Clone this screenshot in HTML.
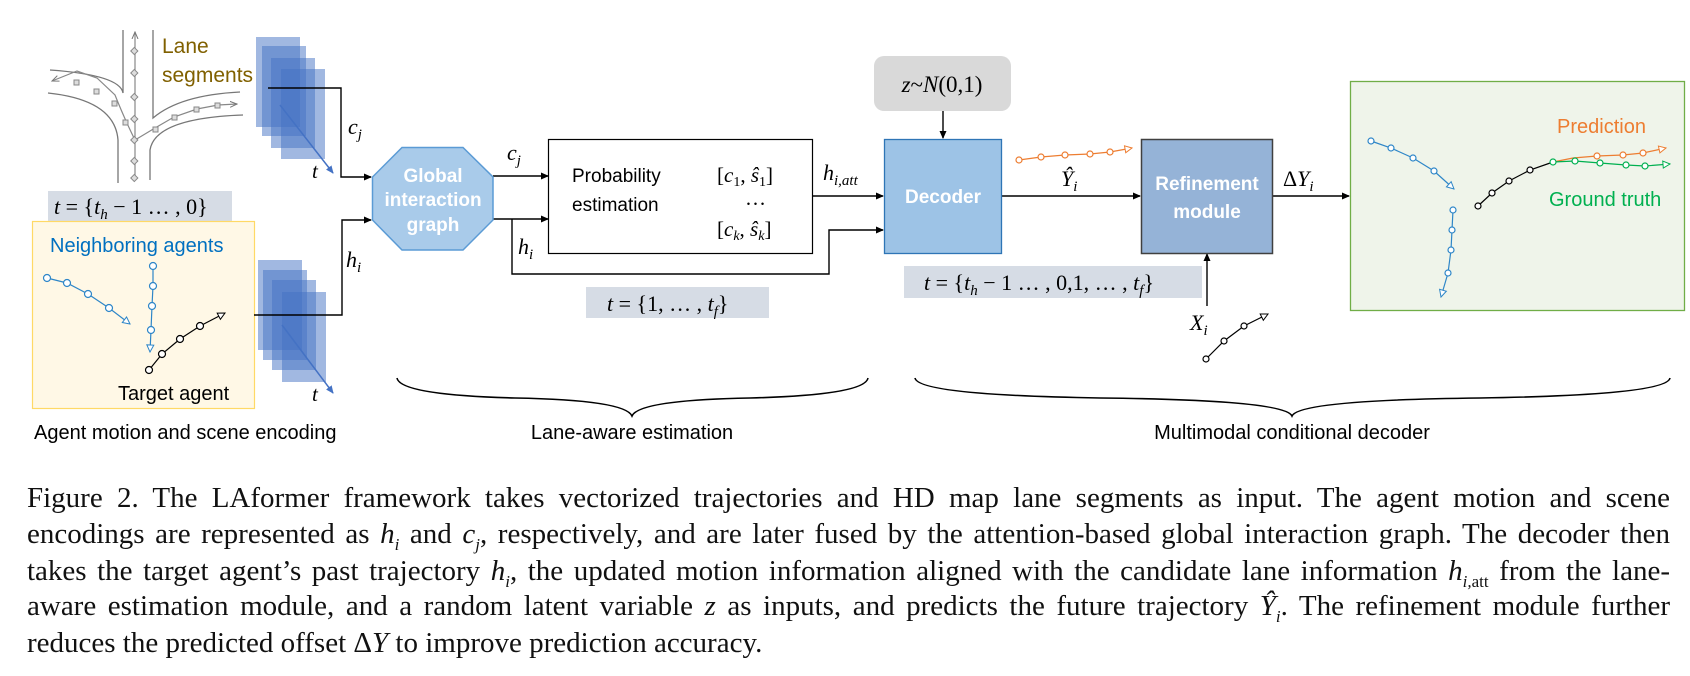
<!DOCTYPE html>
<html><head><meta charset="utf-8"><style>
body{margin:0;background:#fff;width:1690px;height:676px;overflow:hidden;position:relative;font-family:"Liberation Sans",sans-serif}
svg{position:absolute;left:0;top:0}
.cap{position:absolute;left:27px;width:1643px;font-family:"Liberation Serif",serif;font-size:29px;line-height:36.5px;text-align:justify;text-align-last:justify;white-space:nowrap;color:#111}
.cap i{font-style:italic}
.cap sub{font-size:17px;line-height:0}
</style></head><body>
<svg width="1690" height="676" viewBox="0 0 1690 676" font-family="Liberation Sans, sans-serif">
<defs>
<marker id="a" markerWidth="8" markerHeight="8" refX="7" refY="4" orient="auto" markerUnits="userSpaceOnUse"><path d="M0,0.5 L8,4 L0,7.5z" fill="#000"/></marker>
<marker id="ab" markerWidth="8" markerHeight="8" refX="7" refY="4" orient="auto" markerUnits="userSpaceOnUse"><path d="M0,0.5 L8,4 L0,7.5z" fill="#4472c4"/></marker>
<marker id="ob" markerWidth="9" markerHeight="9" refX="8" refY="4.5" orient="auto" markerUnits="userSpaceOnUse"><path d="M1,1 L8,4.5 L1,8z" fill="#fff" stroke="#2e86c8"/></marker>
<marker id="ok" markerWidth="9" markerHeight="9" refX="8" refY="4.5" orient="auto" markerUnits="userSpaceOnUse"><path d="M1,1 L8,4.5 L1,8z" fill="#fff" stroke="#000"/></marker>
<marker id="oo" markerWidth="9" markerHeight="9" refX="8" refY="4.5" orient="auto" markerUnits="userSpaceOnUse"><path d="M1,1 L8,4.5 L1,8z" fill="#fff" stroke="#ed7d31"/></marker>
<marker id="og" markerWidth="9" markerHeight="9" refX="8" refY="4.5" orient="auto" markerUnits="userSpaceOnUse"><path d="M1,1 L8,4.5 L1,8z" fill="#fff" stroke="#00b050"/></marker>
<marker id="og2" markerWidth="8" markerHeight="8" refX="7" refY="4" orient="auto" markerUnits="userSpaceOnUse"><path d="M0,1 L7,4 L0,7" fill="none" stroke="#777"/></marker>
</defs>
<g fill="none" stroke="#777" stroke-width="1.3">
<path d="M123,30 V93 Q120,75 50,70"/>
<path d="M153,30 V118 Q180,95 240,92"/>
<path d="M48,93 Q115,100 118,140 V183"/>
<path d="M243,115 Q155,118 150,150 V180"/>
</g>
<g fill="none" stroke="#888" stroke-width="1.2">
<path d="M135,180 V32" marker-end="url(#og2)"/>
<path d="M135,140 Q125,120 115,95 L97,78 L77,71 L52,81" marker-end="url(#og2)"/>
<path d="M135,140 L155,128 L174,117 L197,109 L218,105 L237,104" marker-end="url(#og2)"/>
</g>
<g fill="#ddd" stroke="#888" stroke-width="1">
<rect x="132" y="49" width="5" height="5" transform="rotate(45 135 51)"/><rect x="132" y="71" width="5" height="5" transform="rotate(45 135 73)"/><rect x="132" y="95" width="5" height="5" transform="rotate(45 135 97)"/><rect x="132" y="117" width="5" height="5" transform="rotate(45 135 119)"/><rect x="132" y="138" width="5" height="5" transform="rotate(45 135 140)"/><rect x="132" y="159" width="5" height="5" transform="rotate(45 135 161)"/><rect x="132" y="176" width="5" height="5" transform="rotate(45 135 178)"/>
<rect x="74" y="80" width="5" height="5"/><rect x="94" y="89" width="5" height="5"/><rect x="112" y="101" width="5" height="5"/><rect x="123" y="120" width="5" height="5"/><rect x="153" y="127" width="5" height="5"/><rect x="172" y="115" width="5" height="5"/><rect x="194" y="107" width="5" height="5"/><rect x="215" y="103" width="5" height="5"/>
</g>
<text x="162" y="53" font-size="21" fill="#806000">Lane</text>
<text x="162" y="82" font-size="21" fill="#806000">segments</text>
<g fill="#4472c4" fill-opacity="0.5">
<rect x="256" y="37" width="44" height="90"/><rect x="262" y="46" width="44" height="90"/><rect x="271" y="58" width="44" height="90"/><rect x="281" y="69" width="44" height="90"/>
<rect x="258" y="260" width="44" height="90"/><rect x="263" y="270" width="44" height="90"/><rect x="272" y="280" width="44" height="90"/><rect x="282" y="292" width="44" height="90"/>
</g>
<line x1="280" y1="105" x2="333" y2="173" stroke="#4472c4" stroke-width="1.5" marker-end="url(#ab)"/>
<line x1="282" y1="325" x2="333" y2="393" stroke="#4472c4" stroke-width="1.5" marker-end="url(#ab)"/>
<text x="312" y="178" font-size="21" font-style="italic" font-family="Liberation Serif, serif">t</text>
<text x="312" y="401" font-size="21" font-style="italic" font-family="Liberation Serif, serif">t</text>
<rect x="48" y="191" width="184" height="30" fill="#d6dce5"/>
<text x="54" y="214" font-size="22" font-family="Liberation Serif, serif"><tspan font-style="italic">t</tspan> = {<tspan font-style="italic">t</tspan><tspan font-style="italic" font-size="15" dy="5">h</tspan><tspan dy="-5"> − 1 … , 0}</tspan></text>
<rect x="32.5" y="221.5" width="222" height="187" fill="#fff8e6" stroke="#ffd966" stroke-width="1.2"/>
<text x="50" y="252" font-size="20" fill="#0070c0">Neighboring agents</text>
<text x="118" y="400" font-size="20" fill="#000">Target agent</text>
<g fill="none" stroke="#2e86c8" stroke-width="1.2">
<path d="M47,278 L67,283 L88,294 L109,308 L130,324" marker-end="url(#ob)"/>
<path d="M153,266 L153,286 L152,306 L151,330 L150,352" marker-end="url(#ob)"/>
</g>
<g fill="#fff" stroke="#2e86c8" stroke-width="1.2">
<circle cx="47" cy="278" r="3.5"/><circle cx="67" cy="283" r="3.5"/><circle cx="88" cy="294" r="3.5"/><circle cx="109" cy="308" r="3.5"/>
<circle cx="153" cy="266" r="3.5"/><circle cx="153" cy="286" r="3.5"/><circle cx="152" cy="306" r="3.5"/><circle cx="151" cy="330" r="3.5"/>
</g>
<path d="M149,370 L162,354 L180,339 L200,326 L225,313" fill="none" stroke="#000" stroke-width="1.2" marker-end="url(#ok)"/>
<g fill="#fff" stroke="#000" stroke-width="1.2"><circle cx="149" cy="370" r="3.5"/><circle cx="162" cy="354" r="3.5"/><circle cx="180" cy="339" r="3.5"/><circle cx="200" cy="326" r="3.5"/></g>
<g fill="none" stroke="#000" stroke-width="1.4">
<path d="M268,88 H341 V177 H371" marker-end="url(#a)"/>
<path d="M254,315 H342 V220 H371" marker-end="url(#a)"/>
<path d="M493,176 H548" marker-end="url(#a)"/>
<path d="M493,219 H548" marker-end="url(#a)"/>
<path d="M512,219 V274 H829 V230 H883" marker-end="url(#a)"/>
<path d="M813,196 H883" marker-end="url(#a)"/>
<path d="M943,111 V138" marker-end="url(#a)"/>
<path d="M1002,196 H1140" marker-end="url(#a)"/>
<path d="M1273,196 H1349" marker-end="url(#a)"/>
<path d="M1207,306 V254" marker-end="url(#a)"/>
</g>
<g font-family="Liberation Serif, serif" font-style="italic" font-size="22">
<text x="348" y="134">c<tspan font-size="15" dy="5">j</tspan></text>
<text x="346" y="267">h<tspan font-size="15" dy="5">i</tspan></text>
<text x="507" y="160">c<tspan font-size="15" dy="5">j</tspan></text>
<text x="518" y="254">h<tspan font-size="15" dy="5">i</tspan></text>
<text x="823" y="180">h<tspan font-size="15" dy="5">i,att</tspan></text>
<text x="1061" y="186">Ŷ<tspan font-size="15" dy="5">i</tspan></text>
<text x="1283" y="186"><tspan font-style="normal">Δ</tspan>Y<tspan font-size="15" dy="5">i</tspan></text>
<text x="1190" y="330">X<tspan font-size="15" dy="5">i</tspan></text>
</g>
<polygon points="402,147.5 463,147.5 493,177 493,220 463,250 402,250 372.5,220 372.5,177" fill="#a9cbea" stroke="#5b9bd5" stroke-width="1.5"/>
<g font-size="19" font-weight="bold" fill="#fff" text-anchor="middle"><text x="433" y="182">Global</text><text x="433" y="206">interaction</text><text x="433" y="231">graph</text></g>
<rect x="548.5" y="139.5" width="264" height="114" fill="#fff" stroke="#000" stroke-width="1.2"/>
<text x="572" y="182" font-size="19">Probability</text>
<text x="572" y="211" font-size="19">estimation</text>
<g font-family="Liberation Serif, serif" font-size="21">
<text x="717" y="182">[<tspan font-style="italic">c</tspan><tspan font-size="14" dy="4">1</tspan><tspan dy="-4">, </tspan><tspan font-style="italic">ŝ</tspan><tspan font-size="14" dy="4">1</tspan><tspan dy="-4">]</tspan></text>
<text x="745" y="205">…</text>
<text x="717" y="236">[<tspan font-style="italic">c</tspan><tspan font-size="14" dy="4" font-style="italic">k</tspan><tspan dy="-4">, </tspan><tspan font-style="italic">ŝ</tspan><tspan font-size="14" dy="4" font-style="italic">k</tspan><tspan dy="-4">]</tspan></text>
</g>
<rect x="586" y="287" width="183" height="31" fill="#d6dce5"/>
<text x="607" y="311" font-size="22" font-family="Liberation Serif, serif"><tspan font-style="italic">t</tspan> = {1, … , <tspan font-style="italic">t</tspan><tspan font-style="italic" font-size="15" dy="5">f</tspan><tspan dy="-5">}</tspan></text>
<rect x="874" y="56" width="137" height="55" rx="10" fill="#d9d9d9"/>
<text x="942" y="92" font-size="23" text-anchor="middle" font-family="Liberation Serif, serif"><tspan font-style="italic">z</tspan>~<tspan font-style="italic">N</tspan>(0,1)</text>
<rect x="884.5" y="139.5" width="117" height="114" fill="#9dc3e6" stroke="#2e75b6" stroke-width="1.3"/>
<text x="943" y="203" font-size="19" font-weight="bold" fill="#fff" text-anchor="middle">Decoder</text>
<rect x="1141.5" y="139.5" width="131" height="114" fill="#95b3d7" stroke="#404040" stroke-width="1.5"/>
<text x="1207" y="190" font-size="19" font-weight="bold" fill="#fff" text-anchor="middle">Refinement</text>
<text x="1207" y="218" font-size="19" font-weight="bold" fill="#fff" text-anchor="middle">module</text>
<path d="M1019,160 L1041,157 L1065,155 L1090,154 L1110,152 L1132,148" fill="none" stroke="#ed7d31" stroke-width="1.2" marker-end="url(#oo)"/>
<g fill="#fff" stroke="#ed7d31" stroke-width="1.2"><circle cx="1019" cy="160" r="3"/><circle cx="1041" cy="157" r="3"/><circle cx="1065" cy="155" r="3"/><circle cx="1090" cy="154" r="3"/><circle cx="1110" cy="152" r="3"/></g>
<rect x="904" y="266" width="298" height="32" fill="#d6dce5"/>
<text x="924" y="290" font-size="22" font-family="Liberation Serif, serif"><tspan font-style="italic">t</tspan> = {<tspan font-style="italic">t</tspan><tspan font-style="italic" font-size="15" dy="5">h</tspan><tspan dy="-5"> − 1 … , 0,1, … , </tspan><tspan font-style="italic">t</tspan><tspan font-style="italic" font-size="15" dy="5">f</tspan><tspan dy="-5">}</tspan></text>
<path d="M1206,359 L1224,341 L1244,326 L1268,314" fill="none" stroke="#000" stroke-width="1.2" marker-end="url(#ok)"/>
<g fill="#fff" stroke="#000" stroke-width="1.2"><circle cx="1206" cy="359" r="3"/><circle cx="1224" cy="341" r="3"/><circle cx="1244" cy="326" r="3"/></g>
<rect x="1350.5" y="81.5" width="334" height="229" fill="#eff4ea" stroke="#70ad47" stroke-width="1.3"/>
<text x="1557" y="133" font-size="20" fill="#ed7d31">Prediction</text>
<text x="1549" y="206" font-size="20" fill="#00b050">Ground truth</text>
<g fill="none" stroke="#2e86c8" stroke-width="1.2">
<path d="M1371,141 L1391,148 L1413,158 L1434,171 L1454,189" marker-end="url(#ob)"/>
<path d="M1453,210 L1452,230 L1451,250 L1448,273 L1441,297" marker-end="url(#ob)"/>
</g>
<g fill="#fff" stroke="#2e86c8" stroke-width="1.2"><circle cx="1371" cy="141" r="3"/><circle cx="1391" cy="148" r="3"/><circle cx="1413" cy="158" r="3"/><circle cx="1434" cy="171" r="3"/><circle cx="1453" cy="210" r="3"/><circle cx="1452" cy="230" r="3"/><circle cx="1451" cy="250" r="3"/><circle cx="1448" cy="273" r="3"/></g>
<path d="M1478,206 L1492,193 L1509,181 L1530,170 L1553,162" fill="none" stroke="#000" stroke-width="1.2"/>
<g fill="#fff" stroke="#000" stroke-width="1.2"><circle cx="1478" cy="206" r="3"/><circle cx="1492" cy="193" r="3"/><circle cx="1509" cy="181" r="3"/><circle cx="1530" cy="170" r="3"/></g>
<path d="M1553,162 L1573,158 L1597,156 L1623,155 L1643,153 L1666,148" fill="none" stroke="#ed7d31" stroke-width="1.2" marker-end="url(#oo)"/>
<path d="M1553,162 L1575,161 L1600,163 L1626,165 L1645,166 L1670,164" fill="none" stroke="#00b050" stroke-width="1.2" marker-end="url(#og)"/>
<g fill="#fff" stroke-width="1.2"><g stroke="#ed7d31"><circle cx="1597" cy="156" r="3"/><circle cx="1623" cy="155" r="3"/><circle cx="1643" cy="153" r="3"/></g><g stroke="#00b050"><circle cx="1553" cy="162" r="3"/><circle cx="1575" cy="161" r="3"/><circle cx="1600" cy="163" r="3"/><circle cx="1626" cy="165" r="3"/><circle cx="1645" cy="166" r="3"/></g></g>
<g fill="none" stroke="#000" stroke-width="1.6">
<path d="M397,378 Q400,395 515,398 Q625,400 632,416 Q639,400 750,398 Q865,395 868,378"/>
<path d="M915,378 Q918,395 1100,398 Q1285,400 1292,416 Q1299,400 1480,398 Q1667,395 1670,378"/>
</g>
<g font-size="20" fill="#000">
<text x="34" y="439">Agent motion and scene encoding</text>
<text x="632" y="439" text-anchor="middle">Lane-aware estimation</text>
<text x="1292" y="439" text-anchor="middle">Multimodal conditional decoder</text>
</g>
</svg>
<div class="cap" style="top:480px">Figure 2. The LAformer framework takes vectorized trajectories and HD map lane segments as input. The agent motion and scene</div>
<div class="cap" style="top:516px">encodings are represented as <i>h<sub>i</sub></i> and <i>c<sub>j</sub></i>, respectively, and are later fused by the attention-based global interaction graph. The decoder then</div>
<div class="cap" style="top:553px">takes the target agent’s past trajectory <i>h<sub>i</sub></i>, the updated motion information aligned with the candidate lane information <i>h<sub>i,</sub></i><sub>att</sub> from the lane-</div>
<div class="cap" style="top:588px">aware estimation module, and a random latent variable <i>z</i> as inputs, and predicts the future trajectory <i>Ŷ<sub>i</sub></i>. The refinement module further</div>
<div class="cap" style="top:625px;text-align:left;text-align-last:left;width:auto">reduces the predicted offset Δ<i>Y</i> to improve prediction accuracy.</div>
</body></html>
